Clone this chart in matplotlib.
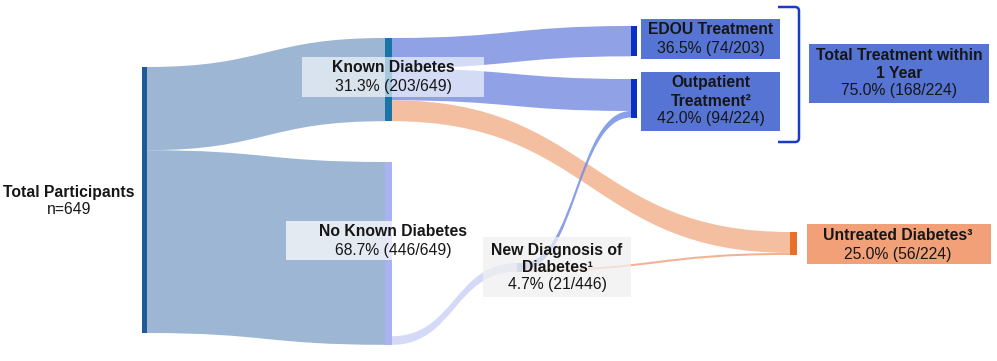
import matplotlib
matplotlib.use("Agg")
import matplotlib.pyplot as plt
from matplotlib.path import Path
from matplotlib.patches import PathPatch, Rectangle

plt.rcParams['font.family'] = ['Liberation Sans', 'DejaVu Sans']

# ---- data ----
node_names = ['Total', 'Known', 'NoKnown', 'New', 'EDOU', 'Outpatient', 'Untreated']
node_values = [649, 203, 446, 21, 74, 94, 56]

flow_src = ['Total', 'Total', 'Known', 'Known', 'Known', 'NoKnown', 'New', 'New']
flow_dst = ['Known', 'NoKnown', 'EDOU', 'Outpatient', 'Untreated', 'New', 'Outpatient', 'Untreated']
flow_val = [203, 446, 74, 78, 51, 21, 16, 5]

# ---- layout (pixels) ----
scale = 266 / 649
node_x = {'Total': 142, 'Known': 385, 'NoKnown': 385, 'New': 517,
          'EDOU': 631, 'Outpatient': 631, 'Untreated': 790}
node_top = {'Total': 67, 'Known': 38, 'NoKnown': 162, 'New': 263,
            'EDOU': 26, 'Outpatient': 79, 'Untreated': 232}
node_w = {'Total': 5, 'Known': 7, 'NoKnown': 7, 'New': 5,
          'EDOU': 6, 'Outpatient': 6, 'Untreated': 7}
node_col = {'Total': '#1f5a96', 'Known': '#1b74a6', 'NoKnown': '#aab3f2',
            'New': '#8497e3', 'EDOU': '#0b2fc0', 'Outpatient': '#0b2fc0',
            'Untreated': '#e8702a'}
out_bottom = {'NoKnown'}  # outgoing flows stacked at the bottom of the node

flow_col = ['#9cb6d3', '#9cb6d3', '#8a9de4', '#8a9de4', '#f4bb9b',
            '#d4d9f7', '#7590e4', '#f2aa88']
flow_alpha = [1, 1, 0.95, 0.95, 0.95, 1, 0.85, 0.9]

fig = plt.figure(figsize=(9.97, 3.61), dpi=100)
ax = fig.add_axes([0, 0, 1, 1])
ax.set_xlim(0, 997)
ax.set_ylim(361, 0)
ax.axis('off')


def draw_flow(x0, y0a, y0b, x1, y1a, y1b, color, alpha):
    xm = (x0 + x1) / 2
    verts = [(x0, y0a), (xm, y0a), (xm, y1a), (x1, y1a),
             (x1, y1b), (xm, y1b), (xm, y0b), (x0, y0b), (x0, y0a)]
    codes = [Path.MOVETO, Path.CURVE4, Path.CURVE4, Path.CURVE4,
             Path.LINETO, Path.CURVE4, Path.CURVE4, Path.CURVE4, Path.CLOSEPOLY]
    ax.add_patch(PathPatch(Path(verts, codes), facecolor=color, edgecolor='none',
                           alpha=alpha, zorder=1))


vals = dict(zip(node_names, node_values))
out_off = {}
for n in node_names:
    if n in out_bottom:
        used = sum(v for s, v in zip(flow_src, flow_val) if s == n)
        out_off[n] = vals[n] - used
    else:
        out_off[n] = 0
in_off = {n: 0 for n in node_names}

for s, d, v, c, a in zip(flow_src, flow_dst, flow_val, flow_col, flow_alpha):
    x0 = node_x[s] + node_w[s]
    y0a = node_top[s] + out_off[s] * scale
    y0b = y0a + v * scale
    x1 = node_x[d]
    y1a = node_top[d] + in_off[d] * scale
    y1b = y1a + v * scale
    draw_flow(x0, y0a, y0b, x1, y1a, y1b, c, a)
    out_off[s] += v
    in_off[d] += v

for n in node_names:
    ax.add_patch(Rectangle((node_x[n], node_top[n]), node_w[n], vals[n] * scale,
                           facecolor=node_col[n], edgecolor='none', zorder=2))

# label boxes
boxes = [
    (302, 57, 182, 40, 'white', 0.62),
    (286, 221, 211, 39, 'white', 0.72),
    (483, 237, 148, 60, '#f0f0f0', 0.75),
    (641, 19, 139, 40, '#5574d4', 1),
    (641, 72, 139, 59, '#5574d4', 1),
    (809, 44, 180, 59, '#5574d4', 1),
    (807, 224, 184, 40, '#f2a077', 1),
]
for bx, by, bw, bh, fc, al in boxes:
    ax.add_patch(Rectangle((bx, by), bw, bh, facecolor=fc, edgecolor='none',
                           alpha=al, zorder=3))

# bracket
bverts = [(778, 7), (795, 7), (799, 7), (799, 11), (799, 138), (799, 142), (795, 142), (778, 142)]
bcodes = [Path.MOVETO, Path.LINETO, Path.CURVE3, Path.CURVE3, Path.LINETO,
          Path.CURVE3, Path.CURVE3, Path.LINETO]
ax.add_patch(PathPatch(Path(bverts, bcodes), facecolor='none', edgecolor='#1a3cc4',
                       lw=1.8, zorder=4))

labels = [
    (69, 192, 'Total Participants', 'bold'), (69, 210, 'n=649', 'normal'),
    (393, 68, 'Known Diabetes', 'bold'), (393, 87, '31.3% (203/649)', 'normal'),
    (393, 232, 'No Known Diabetes', 'bold'), (393, 250, '68.7% (446/649)', 'normal'),
    (557, 250, 'New Diagnosis of', 'bold'), (557, 268, 'Diabetes\u00b9', 'bold'),
    (557, 285, '4.7% (21/446)', 'normal'),
    (711, 30, 'EDOU Treatment', 'bold'), (711, 48, '36.5% (74/203)', 'normal'),
    (711, 83, 'Outpatient', 'bold'), (711, 101, 'Treatment\u00b2', 'bold'),
    (711, 119, '42.0% (94/224)', 'normal'),
    (899, 55, 'Total Treatment within', 'bold'), (899, 73, '1 Year', 'bold'),
    (899, 91, '75.0% (168/224)', 'normal'),
    (898, 236, 'Untreated Diabetes\u00b3', 'bold'), (898, 254, '25.0% (56/224)', 'normal'),
]
for x, y, t, w in labels:
    ax.text(x, y, t, ha='center', va='center', fontsize=11.3, fontweight=w,
            color='#161616', zorder=5)

fig.savefig('out.png', dpi=100)
